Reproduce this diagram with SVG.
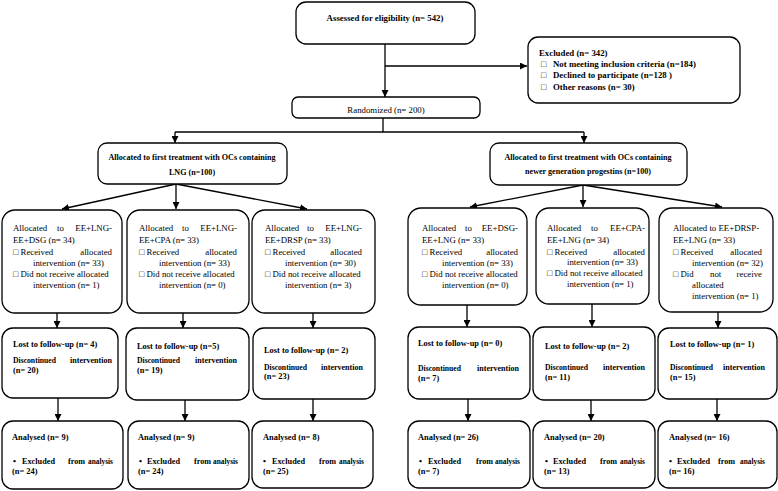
<svg xmlns="http://www.w3.org/2000/svg" width="778" height="491" viewBox="0 0 778 491">
<style>
.b{fill:#fff;stroke:#000;stroke-width:1.3}
text{font-family:"Liberation Serif","Times New Roman","DejaVu Serif",serif;font-size:8.8px;fill:#000}
.bd{font-weight:bold}
.al{font-weight:bold;font-size:8.1px}
.s{font-weight:bold;font-size:8.4px}
.e{text-anchor:end}
.m{text-anchor:middle}
.c path{stroke:#000;stroke-width:1.3;fill:none}
</style>
<defs>
<marker id="ah" markerUnits="userSpaceOnUse" markerWidth="8" markerHeight="7" refX="7" refY="3.5" orient="auto">
<path d="M0,0 L7,3.5 L0,7 z" fill="#000"/>
</marker>
</defs>
<rect width="778" height="491" fill="#fff"/>
<g class="c">
<path d="M385,44 V97" marker-end="url(#ah)"/>
<path d="M385,66 H527" marker-end="url(#ah)"/>
<path d="M383,118 V132"/>
<path d="M175,132 H584"/>
<path d="M175,132 V143" marker-end="url(#ah)"/>
<path d="M584,132 V143" marker-end="url(#ah)"/>
<path d="M176,184 L62,209" marker-end="url(#ah)"/>
<path d="M176,184 V209" marker-end="url(#ah)"/>
<path d="M176,184 L307,209" marker-end="url(#ah)"/>
<path d="M583,185 L470,207" marker-end="url(#ah)"/>
<path d="M583,185 V207" marker-end="url(#ah)"/>
<path d="M583,185 L722,207" marker-end="url(#ah)"/>
<path d="M57,313 V328" marker-end="url(#ah)"/>
<path d="M183,313 V328" marker-end="url(#ah)"/>
<path d="M313,313 V328" marker-end="url(#ah)"/>
<path d="M467,305 V327" marker-end="url(#ah)"/>
<path d="M592,304 V327" marker-end="url(#ah)"/>
<path d="M718,312 V328" marker-end="url(#ah)"/>
<path d="M58,398 V421" marker-end="url(#ah)"/>
<path d="M185,400 V421" marker-end="url(#ah)"/>
<path d="M313,399 V421" marker-end="url(#ah)"/>
<path d="M468,399 V421" marker-end="url(#ah)"/>
<path d="M591,400 V421" marker-end="url(#ah)"/>
<path d="M717,399 V421" marker-end="url(#ah)"/>
</g>
<g id="assessed">
<rect class="b" x="296" y="2" width="179" height="42" rx="10"/>
<text class="bd m" x="385" y="21">Assessed for eligibility (n= 542)</text>
</g>
<g id="excluded">
<rect class="b" x="528" y="37" width="212" height="66" rx="10"/>
<text class="bd" x="539" y="56">Excluded (n= 342)</text>
<text class="bd" x="541" y="67">□</text><text class="bd" x="553" y="67">Not meeting inclusion criteria (n=184)</text>
<text class="bd" x="541" y="78">□</text><text class="bd" x="553" y="78">Declined to participate (n=128 )</text>
<text class="bd" x="541" y="90">□</text><text class="bd" x="553" y="90">Other reasons (n= 30)</text>
</g>
<g id="randomized">
<rect class="b" x="292" y="97" width="188" height="21" rx="6"/>
<text class="m" x="386" y="113">Randomized (n= 200)</text>
</g>
<g id="alloc-lng">
<rect class="b" x="98" y="143" width="189" height="41" rx="9"/>
<text class="al m" x="192" y="160">Allocated to first treatment with OCs containing</text>
<text class="al m" x="192" y="175">LNG (n=100)</text>
</g>
<g id="alloc-new">
<rect class="b" x="490" y="143" width="197" height="42" rx="9"/>
<text class="al m" x="588" y="160">Allocated to first treatment with OCs containing</text>
<text class="al m" x="588" y="174">newer generation progestins (n=100)</text>
</g>
<g id="g-lng-dsg">
<rect class="b" x="2" y="210" width="120" height="103" rx="13"/>
<text x="13" y="231">Allocated</text><text x="57" y="231">to</text><text class="e" x="112" y="231">EE+LNG-</text>
<text x="13" y="243">EE+DSG (n= 34)</text>
<text x="13" y="255">□ Received</text><text class="e" x="112" y="255">allocated</text>
<text x="33" y="266">intervention (n= 33)</text>
<text x="13" y="277">□ Did not receive allocated</text>
<text x="33" y="288">intervention  (n= 1)</text>
</g>
<g id="g-lng-cpa">
<rect class="b" x="127" y="210" width="122" height="103" rx="13"/>
<text x="139" y="231">Allocated</text><text x="182" y="231">to</text><text class="e" x="237" y="231">EE+LNG-</text>
<text x="139" y="243">EE+CPA (n= 33)</text>
<text x="139" y="255">□ Received</text><text class="e" x="237" y="255">allocated</text>
<text x="159" y="266">intervention (n= 33)</text>
<text x="139" y="277">□ Did not receive allocated</text>
<text x="159" y="288">intervention (n= 0)</text>
</g>
<g id="g-lng-drsp">
<rect class="b" x="252" y="210" width="123" height="103" rx="13"/>
<text x="265" y="231">Allocated</text><text x="307" y="231">to</text><text class="e" x="362" y="231">EE+LNG-</text>
<text x="265" y="243">EE+DRSP (n= 33)</text>
<text x="265" y="255">□ Received</text><text class="e" x="362" y="255">allocated</text>
<text x="285" y="266">intervention (n= 30)</text>
<text x="265" y="277">□ Did not receive allocated</text>
<text x="285" y="288">intervention (n= 3)</text>
</g>
<g id="g-dsg-lng">
<rect class="b" x="408" y="208" width="119" height="97" rx="13"/>
<text x="422" y="231">Allocated</text><text x="465" y="231">to</text><text class="e" x="518" y="231">EE+DSG-</text>
<text x="422" y="243">EE+LNG (n= 33)</text>
<text x="422" y="255">□ Received</text><text class="e" x="518" y="255">allocated</text>
<text x="442" y="266">intervention (n= 33)</text>
<text x="422" y="277">□ Did not receive allocated</text>
<text x="442" y="288">intervention  (n= 0)</text>
</g>
<g id="g-cpa-lng">
<rect class="b" x="536" y="208" width="113" height="96" rx="13"/>
<text x="547" y="231">Allocated</text><text x="591" y="231">to</text><text class="e" x="645" y="231">EE+CPA-</text>
<text x="547" y="243">EE+LNG (n= 34)</text>
<text x="547" y="255">□ Received</text><text class="e" x="645" y="255">allocated</text>
<text x="567" y="265">intervention (n= 33)</text>
<text x="547" y="276">□ Did not receive allocated</text>
<text x="567" y="287">intervention  (n= 1)</text>
</g>
<g id="g-drsp-lng">
<rect class="b" x="659" y="208" width="114" height="104" rx="13"/>
<text x="673" y="231">Allocated to EE+DRSP-</text>
<text x="673" y="243">EE+LNG (n= 33)</text>
<text x="673" y="255">□ Received</text><text class="e" x="762" y="255">allocated</text>
<text x="692" y="266">intervention (n= 32)</text>
<text x="673" y="277">□ Did</text><text x="710" y="277">not</text><text class="e" x="762" y="277">receive</text>
<text x="692" y="288">allocated</text>
<text x="692" y="299">intervention (n= 1)</text>
</g>
<g id="lost-1">
<rect class="b" x="2" y="328" width="116" height="70" rx="11"/>
<text class="s" x="13" y="347">Lost to follow-up (n= 4)</text>
<text class="s" x="13" y="363" textLength="43" lengthAdjust="spacingAndGlyphs">Discontinued</text><text class="s" x="70" y="363" textLength="42" lengthAdjust="spacingAndGlyphs">intervention</text>
<text class="s" x="13" y="373">(n= 20)</text>
</g>
<g id="lost-2">
<rect class="b" x="126" y="328" width="123" height="72" rx="11"/>
<text class="s" x="137" y="349">Lost to follow-up (n=5)</text>
<text class="s" x="137" y="363" textLength="43" lengthAdjust="spacingAndGlyphs">Discontinued</text><text class="s" x="195" y="363" textLength="42" lengthAdjust="spacingAndGlyphs">intervention</text>
<text class="s" x="137" y="373">(n= 19)</text>
</g>
<g id="lost-3">
<rect class="b" x="253" y="328" width="122" height="71" rx="11"/>
<text class="s" x="264" y="353">Lost to follow-up (n= 2)</text>
<text class="s" x="264" y="370" textLength="43" lengthAdjust="spacingAndGlyphs">Discontinued</text><text class="s" x="321" y="370" textLength="42" lengthAdjust="spacingAndGlyphs">intervention</text>
<text class="s" x="264" y="379">(n= 23)</text>
</g>
<g id="lost-4">
<rect class="b" x="408" y="327" width="122" height="72" rx="11"/>
<text class="s" x="418" y="346">Lost to follow-up (n= 0)</text>
<text class="s" x="418" y="371" textLength="43" lengthAdjust="spacingAndGlyphs">Discontinued</text><text class="s" x="477" y="371" textLength="42" lengthAdjust="spacingAndGlyphs">intervention</text>
<text class="s" x="418" y="381">(n= 7)</text>
</g>
<g id="lost-5">
<rect class="b" x="533" y="327" width="122" height="73" rx="11"/>
<text class="s" x="545" y="349">Lost to follow-up (n= 2)</text>
<text class="s" x="545" y="370" textLength="43" lengthAdjust="spacingAndGlyphs">Discontinued</text><text class="s" x="603" y="370" textLength="42" lengthAdjust="spacingAndGlyphs">intervention</text>
<text class="s" x="545" y="380">(n= 11)</text>
</g>
<g id="lost-6">
<rect class="b" x="658" y="328" width="119" height="71" rx="11"/>
<text class="s" x="670" y="347">Lost to follow-up (n= 1)</text>
<text class="s" x="670" y="370" textLength="43" lengthAdjust="spacingAndGlyphs">Discontinued</text><text class="s" x="723" y="370" textLength="42" lengthAdjust="spacingAndGlyphs">intervention</text>
<text class="s" x="670" y="380">(n= 15)</text>
</g>
<g id="an-1">
<rect class="b" x="2" y="421" width="121" height="68" rx="11"/>
<text class="s" x="12" y="440">Analysed (n= 9)</text>
<text class="s" x="13" y="464">•</text><text class="s" x="22" y="464" textLength="33" lengthAdjust="spacingAndGlyphs">Excluded</text><text class="s" x="68" y="464" textLength="17" lengthAdjust="spacingAndGlyphs">from</text><text class="s" x="88" y="464" textLength="25" lengthAdjust="spacingAndGlyphs">analysis</text>
<text class="s" x="12" y="474">(n= 24)</text>
</g>
<g id="an-2">
<rect class="b" x="128" y="421" width="121" height="68" rx="11"/>
<text class="s" x="138" y="440">Analysed (n= 9)</text>
<text class="s" x="139" y="464">•</text><text class="s" x="147" y="464" textLength="33" lengthAdjust="spacingAndGlyphs">Excluded</text><text class="s" x="194" y="464" textLength="17" lengthAdjust="spacingAndGlyphs">from</text><text class="s" x="213" y="464" textLength="25" lengthAdjust="spacingAndGlyphs">analysis</text>
<text class="s" x="138" y="474">(n= 24)</text>
</g>
<g id="an-3">
<rect class="b" x="252" y="421" width="121" height="67" rx="11"/>
<text class="s" x="263" y="440">Analysed (n= 8)</text>
<text class="s" x="263" y="464">•</text><text class="s" x="272" y="464" textLength="33" lengthAdjust="spacingAndGlyphs">Excluded</text><text class="s" x="319" y="464" textLength="17" lengthAdjust="spacingAndGlyphs">from</text><text class="s" x="339" y="464" textLength="25" lengthAdjust="spacingAndGlyphs">analysis</text>
<text class="s" x="263" y="474">(n= 25)</text>
</g>
<g id="an-4">
<rect class="b" x="408" y="421" width="122" height="67" rx="11"/>
<text class="s" x="418" y="440">Analysed (n= 26)</text>
<text class="s" x="419" y="464">•</text><text class="s" x="428" y="464" textLength="33" lengthAdjust="spacingAndGlyphs">Excluded</text><text class="s" x="476" y="464" textLength="17" lengthAdjust="spacingAndGlyphs">from</text><text class="s" x="495" y="464" textLength="25" lengthAdjust="spacingAndGlyphs">analysis</text>
<text class="s" x="418" y="474">(n= 7)</text>
</g>
<g id="an-5">
<rect class="b" x="533" y="421" width="122" height="67" rx="11"/>
<text class="s" x="544" y="440">Analysed (n= 20)</text>
<text class="s" x="545" y="464">•</text><text class="s" x="553" y="464" textLength="33" lengthAdjust="spacingAndGlyphs">Excluded</text><text class="s" x="600" y="464" textLength="17" lengthAdjust="spacingAndGlyphs">from</text><text class="s" x="620" y="464" textLength="25" lengthAdjust="spacingAndGlyphs">analysis</text>
<text class="s" x="544" y="474">(n= 13)</text>
</g>
<g id="an-6">
<rect class="b" x="658" y="421" width="119" height="67" rx="11"/>
<text class="s" x="669" y="440">Analysed (n= 16)</text>
<text class="s" x="669" y="464">•</text><text class="s" x="677" y="464" textLength="33" lengthAdjust="spacingAndGlyphs">Excluded</text><text class="s" x="718" y="464" textLength="17" lengthAdjust="spacingAndGlyphs">from</text><text class="s" x="740" y="464" textLength="25" lengthAdjust="spacingAndGlyphs">analysis</text>
<text class="s" x="669" y="474">(n= 16)</text>
</g>
</svg>
